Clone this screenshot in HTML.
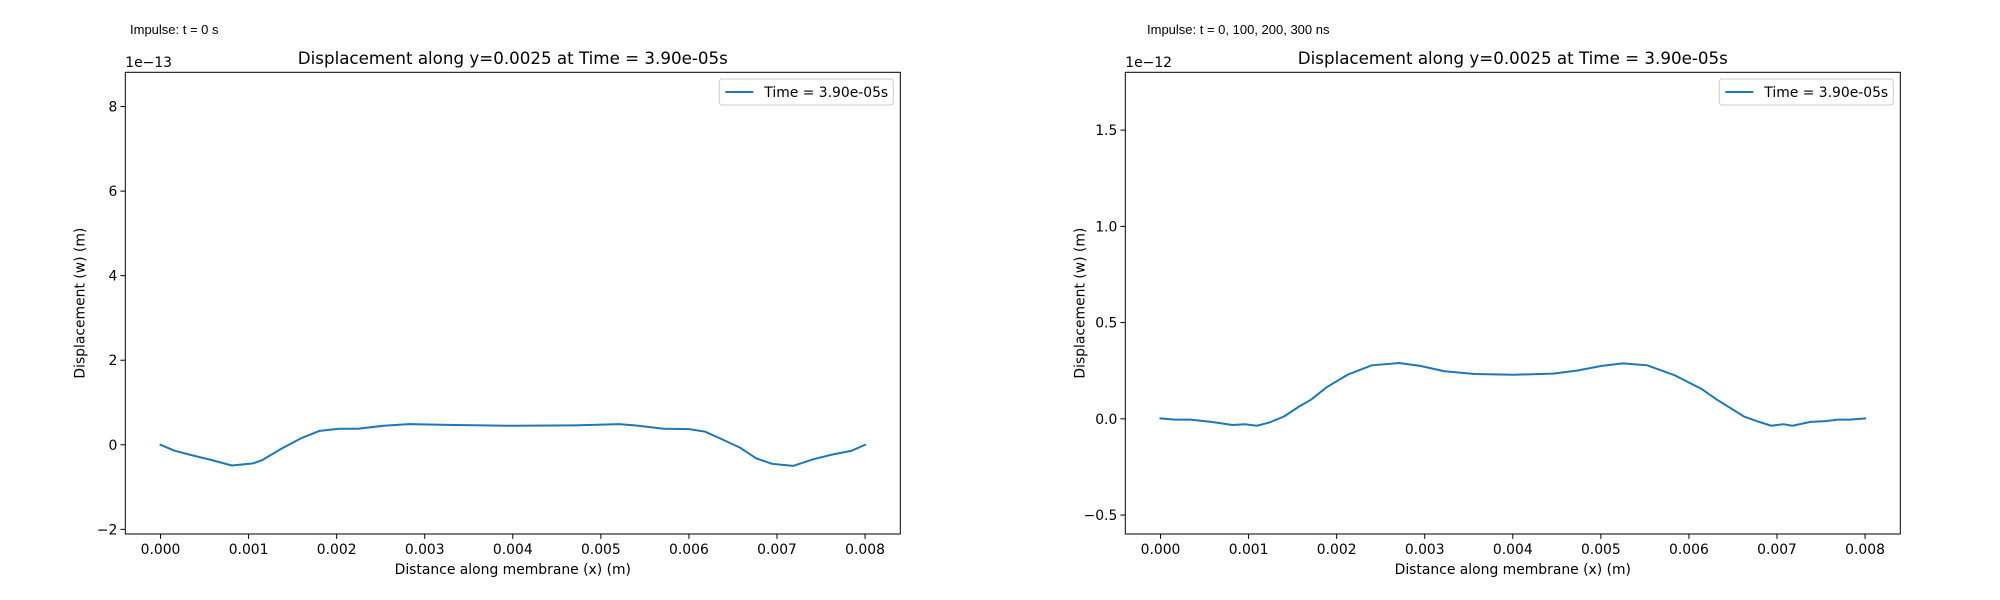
<!DOCTYPE html>
<html><head><meta charset="utf-8"><style>
html,body{margin:0;padding:0;background:#fff;}
svg{display:block;font-family:"DejaVu Sans","Liberation Sans",sans-serif;}
</style></head><body>
<svg id="fig" width="2000" height="600" viewBox="0 0 2000 600" xmlns="http://www.w3.org/2000/svg">
<rect width="2000" height="600" fill="#fff"/>
</svg>
<script>
// Left chart data (displacement in units of 1e-13 m)
const leftX = [0,0.000159,0.000362,0.000579,0.00081,0.00105,0.001157,0.001374,0.001591,0.001808,0.002025,0.002242,0.002532,0.002821,0.003255,0.003978,0.004702,0.005208,0.005425,0.005714,0.006004,0.006184,0.006365,0.006582,0.006763,0.006944,0.007183,0.007414,0.007631,0.007848,0.008];
const leftY = [0,-0.14,-0.25,-0.36,-0.49,-0.44,-0.36,-0.09,0.15,0.33,0.38,0.38,0.45,0.49,0.47,0.45,0.46,0.49,0.45,0.38,0.37,0.31,0.14,-0.07,-0.32,-0.45,-0.5,-0.34,-0.23,-0.14,0];
const leftYTicks = [-2,0,2,4,6,8];
const leftYTickLabels = ["\u22122","0","2","4","6","8"];
// Right chart data (displacement in units of 1e-12 m)
const rightX = [0,0.000165,0.000337,0.000577,0.000818,0.000955,0.001093,0.00123,0.001402,0.001574,0.001711,0.001883,0.002124,0.002399,0.002708,0.002948,0.003223,0.003567,0.004014,0.00446,0.004735,0.00501,0.005251,0.005526,0.005835,0.006144,0.006316,0.006625,0.006797,0.006935,0.007072,0.007175,0.007381,0.007553,0.007691,0.007828,0.008];
const rightY = [0.002,-0.004,-0.004,-0.016,-0.032,-0.028,-0.036,-0.02,0.012,0.064,0.1,0.163,0.229,0.278,0.29,0.275,0.247,0.233,0.229,0.235,0.251,0.275,0.288,0.278,0.227,0.155,0.1,0.012,-0.016,-0.036,-0.028,-0.036,-0.016,-0.012,-0.004,-0.004,0.002];
const rightYTicks = [-0.5,0,0.5,1.0,1.5];
const rightYTickLabels = ["\u22120.5","0.0","0.5","1.0","1.5"];
const xTicks = [0,0.001,0.002,0.003,0.004,0.005,0.006,0.007,0.008];
const xTickLabels = ["0.000","0.001","0.002","0.003","0.004","0.005","0.006","0.007","0.008"];

const NS="http://www.w3.org/2000/svg";
const svg=document.getElementById('fig');
function mk(tag,attrs,parent){const e=document.createElementNS(NS,tag);for(const k in attrs)e.setAttribute(k,attrs[k]);(parent||svg).appendChild(e);return e;}

function drawChart(o){
  const g=mk('g',{});
  
  
  const L=o.left,R=o.left+775,T=72.3,B=534;
  const sx=v=>L+(v-(-0.0004))/(0.0088)*(R-L);
  const sy=v=>B-(v-o.ymin)/(o.ymax-o.ymin)*(B-T);
  const it=mk('text',{x:o.impX,y:34,'font-size':'13','font-family':'"Liberation Sans",sans-serif',fill:'#000'},g);
  it.textContent=o.impulse;
  
  
  const tt=mk('text',{x:(L+R)/2,y:64,'font-size':'16.7','text-anchor':'middle',fill:'#000'},g);
  tt.textContent='Displacement along y=0.0025 at Time = 3.90e-05s';
  
  
  const off=mk('text',{x:L,y:67,'font-size':'13.9',fill:'#000'},g);
  off.textContent=o.offset;
  
  
  xTicks.forEach((v,i)=>{
    const x=sx(v);
    const tk=mk('line',{x1:x,x2:x,y1:B,y2:B+4.9,stroke:'#000','stroke-width':1},g);
    
    
    const t=mk('text',{x:x,y:B+20,'font-size':'13.9','text-anchor':'middle',fill:'#000'},g);
    t.textContent=xTickLabels[i];
    
    
  });
  o.yt.forEach((v,i)=>{
    const y=sy(v);
    const tk=mk('line',{x1:L-4.9,x2:L,y1:y,y2:y,stroke:'#000','stroke-width':1},g);
    
    
    const t=mk('text',{x:L-8,y:y+5,'font-size':'13.9','text-anchor':'end',fill:'#000'},g);
    t.textContent=o.ytl[i];
    
    
  });
  const xl=mk('text',{x:(L+R)/2,y:574,'font-size':'13.9','text-anchor':'middle',fill:'#000'},g);
  xl.textContent='Distance along membrane (x) (m)';
  
  
  const yx=L-41;
  const yl=mk('text',{x:yx,y:(T+B)/2,'font-size':'13.9','text-anchor':'middle',fill:'#000',transform:`rotate(-90 ${yx} ${(T+B)/2})`},g);
  yl.textContent='Displacement (w) (m)';
  
  
  const d=o.xs.map((v,i)=>(i?'L':'M')+sx(v).toFixed(2)+','+sy(o.ys[i]).toFixed(2)).join(' ');
  const p=mk('path',{d:d,fill:'none',stroke:'#1f77b4','stroke-width':2,'stroke-linejoin':'round','stroke-linecap':'square'},g);
  
  
  const fr=mk('rect',{x:L,y:T,width:R-L,height:B-T,fill:'none',stroke:'#000','stroke-width':1},g);
  
  
  const lg=mk('g',{},g);
  
  
  mk('rect',{x:R-181,y:79,width:174,height:26,rx:3,fill:'#fff',stroke:'#ccc','stroke-width':1},lg);
  const ll=mk('line',{x1:R-175,x2:R-147,y1:92,y2:92,stroke:'#1f77b4','stroke-width':2},lg);
  
  
  const lt=mk('text',{x:R-136,y:97,'font-size':'13.9',fill:'#000'},lg);
  lt.textContent='Time = 3.90e-05s';
  
  
}
drawChart({name:'left-chart',left:125.3,ymin:-2.11,ymax:8.81,yt:leftYTicks,ytl:leftYTickLabels,xs:leftX,ys:leftY,offset:'1e\u221213',impulse:'Impulse: t = 0 s',impX:130});
drawChart({name:'right-chart',left:1125.3,ymin:-0.5985,ymax:1.8005,yt:rightYTicks,ytl:rightYTickLabels,xs:rightX,ys:rightY,offset:'1e\u221212',impulse:'Impulse: t = 0, 100, 200, 300 ns',impX:1147});
</script>
</body></html>
